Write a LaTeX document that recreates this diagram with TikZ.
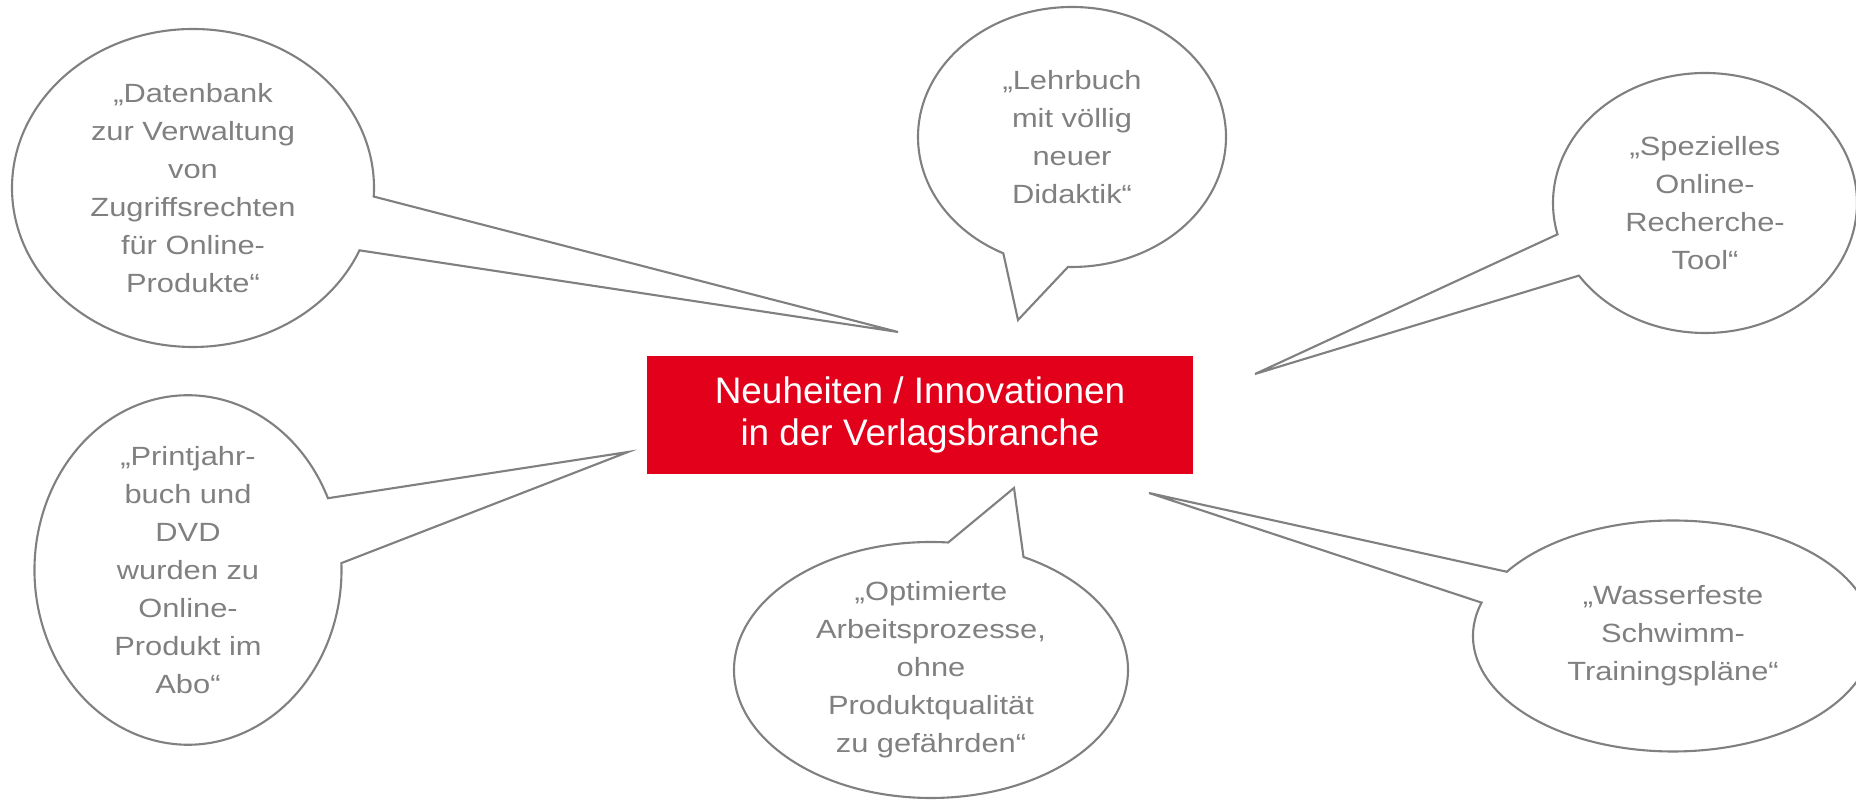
\documentclass[tikz,border=0pt]{standalone}
\usepackage{fontspec}
\setmainfont{Liberation Sans}
\newfontfamily\bubblefont[FakeStretch=1.17]{Liberation Sans}
\usetikzlibrary{shapes.callouts}
\definecolor{verlagred}{RGB}{226,0,26}
\definecolor{bubblegray}{RGB}{128,128,128}

\begin{document}
\begin{tikzpicture}[
    bubble/.style={ellipse callout, draw=bubblegray, line width=0.6pt, fill=white,
      text=bubblegray, inner sep=0pt, align=center,
      font=\bubblefont\fontsize{7.5}{10.8}\selectfont},
    topic/.style={fill=verlagred, text=white, align=center, inner sep=0pt,
      minimum width=5.46cm, minimum height=1.18cm,
      font=\fontsize{10.5}{12.2}\selectfont}]
  \useasboundingbox (0,0) rectangle (18.56,8);
  % central topic
  \node[topic] (hub) at (9.20,3.85) {Neuheiten / Innovationen\\in der Verlagsbranche};
  % tail ends around the topic
  \coordinate (tipA) at (8.98,4.68);
  \coordinate (tipB) at (10.18,4.80);
  \coordinate (tipC) at (12.55,4.26);
  \coordinate (tipD) at (6.28,3.48);
  \coordinate (tipE) at (10.14,3.12);
  \coordinate (tipF) at (11.49,3.07);
  % speech bubbles
  \node[bubble, minimum width=3.62cm, minimum height=3.18cm,
    callout pointer arc=20, callout absolute pointer={(tipA)}] (datenbank) at (1.93,6.12)
    {„Datenbank\\zur Verwaltung\\von\\Zugriffsrechten\\für Online-\\Produkte“};
  \node[bubble, minimum width=3.08cm, minimum height=2.60cm,
    callout pointer arc=25, callout absolute pointer={(tipB)}] (lehrbuch) at (10.72,6.63)
    {„Lehrbuch\\mit völlig\\neuer\\Didaktik“};
  \node[bubble, minimum width=3.04cm, minimum height=2.60cm,
    callout pointer arc=20, callout absolute pointer={(tipC)}] (recherche) at (17.05,5.97)
    {„Spezielles\\Online-\\Recherche-\\Tool“};
  \node[bubble, minimum width=3.07cm, minimum height=3.12cm,
    callout pointer arc=22, callout absolute pointer={(tipD)}] (jahrbuch) at (1.88,2.30)
    {„Printjahr-\\buch und\\DVD\\wurden zu\\Online-\\Produkt im\\Abo“};
  \node[bubble, minimum width=3.94cm, minimum height=2.56cm,
    callout pointer arc=23, callout absolute pointer={(tipE)}] (prozesse) at (9.31,1.30)
    {„Optimierte\\Arbeitsprozesse,\\ohne\\Produktqualität\\zu gefährden“};
  \node[bubble, minimum width=4.00cm, minimum height=2.31cm,
    callout pointer arc=17, callout absolute pointer={(tipF)}] (schwimm) at (16.73,1.64)
    {„Wasserfeste\\Schwimm-\\Trainingspläne“};
\end{tikzpicture}
\end{document}
